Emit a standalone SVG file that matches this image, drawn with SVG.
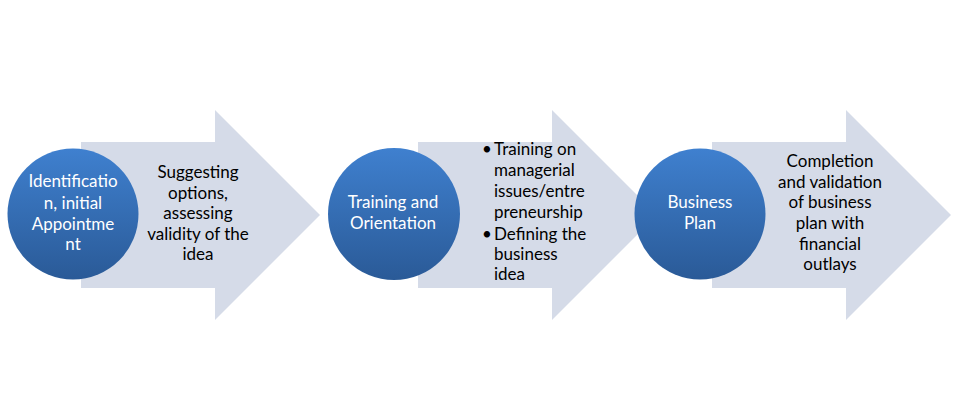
<svg xmlns="http://www.w3.org/2000/svg" width="953" height="402" viewBox="0 0 953 402">
  <defs>
    <linearGradient id="ball" x1="0" y1="0" x2="0" y2="1">
      <stop offset="0" stop-color="#3F80CF"/>
      <stop offset="1" stop-color="#2A5A97"/>
    </linearGradient>
  </defs>
  <style>
    .arrow { fill: #D5DBE8; }
    .ball { fill: url(#ball); }
    .ct { font-family: Lato, "Open Sans", "Liberation Sans", sans-serif; font-size: 17px; fill: #FFFFFF; text-anchor: middle; }
    .at { font-family: Lato, "Open Sans", "Liberation Sans", sans-serif; font-size: 17px; fill: #000000; text-anchor: middle; }
    .bt { font-family: Lato, "Open Sans", "Liberation Sans", sans-serif; font-size: 17px; fill: #000000; }
  </style>
  <rect width="953" height="402" fill="#FFFFFF"/>
  <g id="connectors">
    <polygon id="arrow1" class="arrow" points="81,142 215,142 215,110 320,215 215,320 215,288 81,288"/>
    <polygon id="arrow2" class="arrow" points="418,142 552,142 552,110 657,215 552,320 552,288 418,288"/>
    <polygon id="arrow3" class="arrow" points="712,142 846,142 846,110 951,215 846,320 846,288 712,288"/>
  </g>
  <g id="step1-text">
    <text class="at" x="198" y="178">Suggesting</text>
    <text class="at" x="198" y="198.5">options,</text>
    <text class="at" x="198" y="219">assessing</text>
    <text class="at" x="198" y="239.5">validity of the</text>
    <text class="at" x="198" y="260">idea</text>
  </g>
  <g id="step2-text">
    <text class="bt" x="482" y="155">•</text>
    <text class="bt" x="494" y="155">Training on</text>
    <text class="bt" x="494" y="176">managerial</text>
    <text class="bt" x="494" y="197">issues/entre</text>
    <text class="bt" x="494" y="217.5">preneurship</text>
    <text class="bt" x="482" y="240">•</text>
    <text class="bt" x="494" y="240">Defining the</text>
    <text class="bt" x="494" y="260">business</text>
    <text class="bt" x="494" y="280">idea</text>
  </g>
  <g id="step3-text">
    <text class="at" x="830" y="167">Completion</text>
    <text class="at" x="830" y="187.5">and validation</text>
    <text class="at" x="830" y="208">of business</text>
    <text class="at" x="830" y="229">plan with</text>
    <text class="at" x="830" y="249.5">financial</text>
    <text class="at" x="830" y="270">outlays</text>
  </g>
  <g id="node1">
    <circle class="ball" cx="73" cy="214" r="65.5"/>
    <text class="ct" x="73" y="187">Identificatio</text>
    <text class="ct" x="73" y="208.5">n, initial</text>
    <text class="ct" x="73" y="229.5">Appointme</text>
    <text class="ct" x="73" y="250">nt</text>
  </g>
  <g id="node2">
    <circle class="ball" cx="394" cy="214" r="66"/>
    <text class="ct" x="393" y="208">Training and</text>
    <text class="ct" x="393" y="229">Orientation</text>
  </g>
  <g id="node3">
    <circle class="ball" cx="700" cy="214" r="65.5"/>
    <text class="ct" x="700" y="208">Business</text>
    <text class="ct" x="700" y="229">Plan</text>
  </g>
</svg>
